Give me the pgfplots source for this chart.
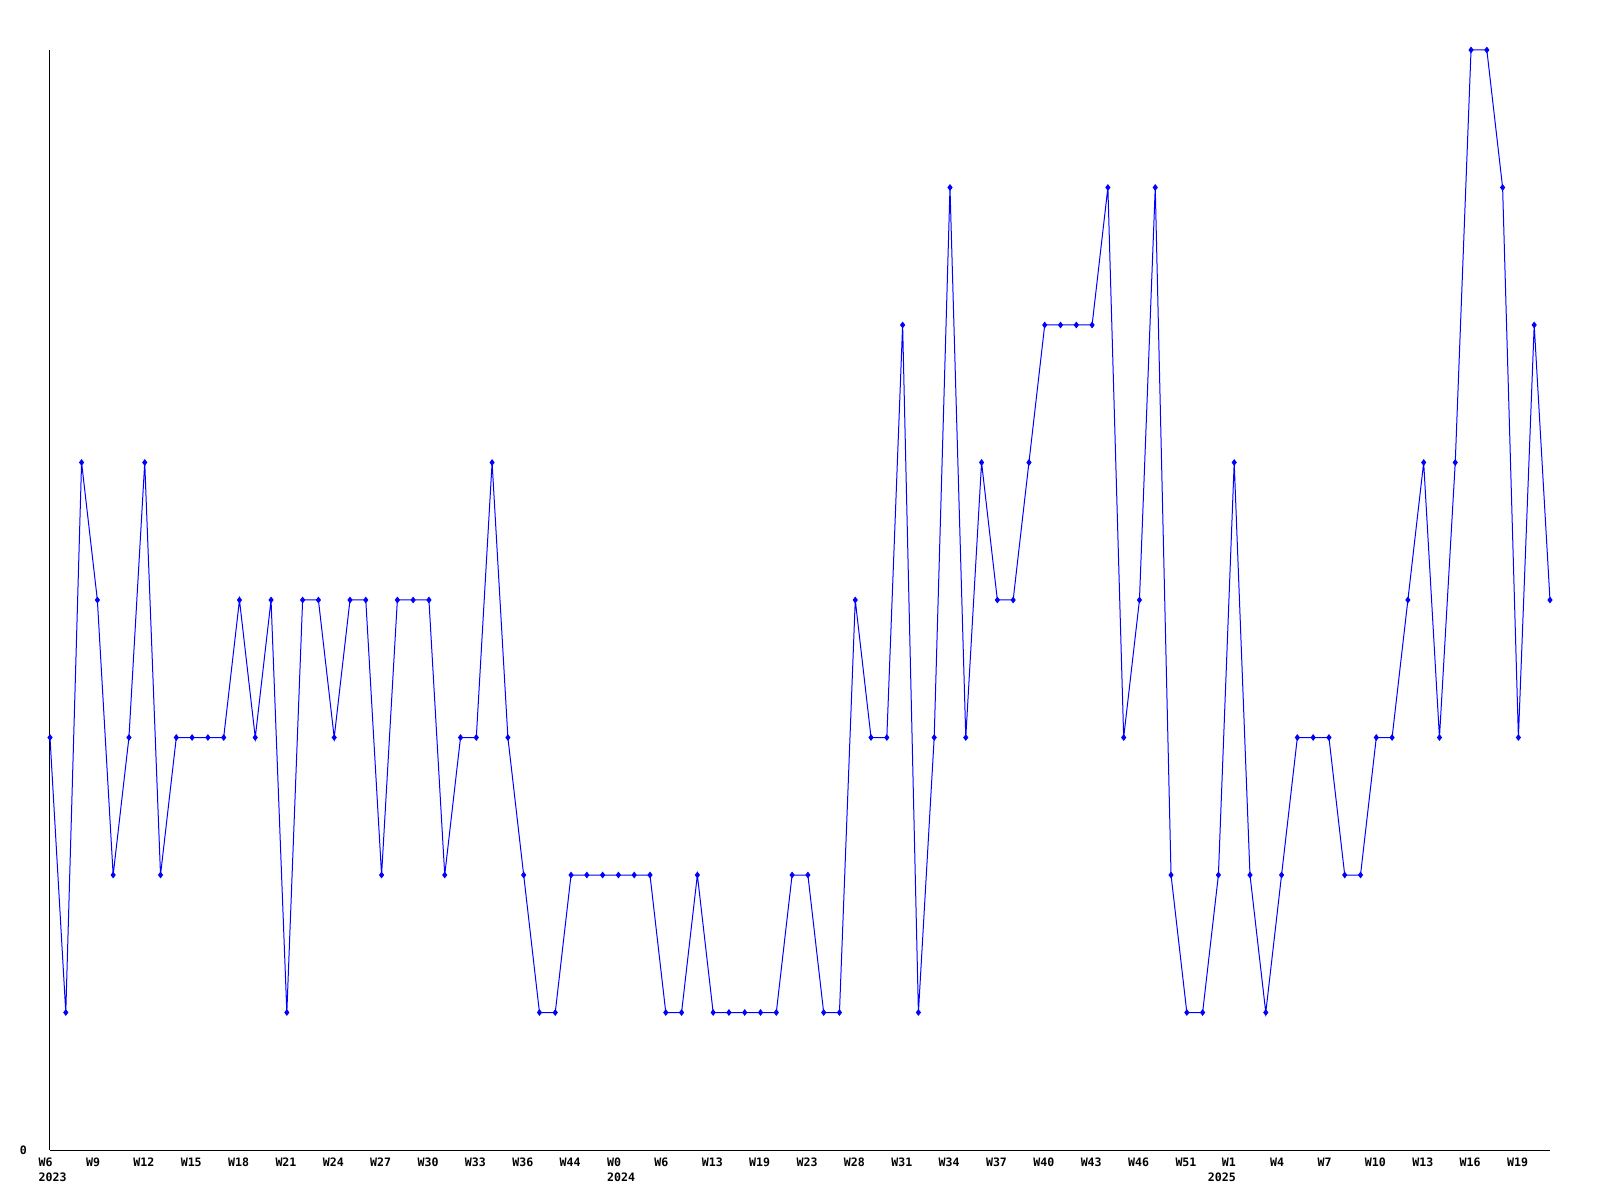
\documentclass[border=0pt]{standalone}
\usepackage{pgfplots}
\pgfplotsset{compat=1.18}
\usepackage{fontspec}
\setmonofont{DejaVu Sans Mono}
\begin{document}
\begin{tikzpicture}[x=1pt,y=1pt]
\path[use as bounding box] (0,0) rectangle (800,600);
\begin{axis}[
  at={(25pt,25pt)}, anchor=origin,
  scale only axis, width=750pt, height=550pt,
  xmin=0, xmax=95, ymin=0, ymax=8,
  axis lines*=left,
  axis line style={black, line width=0.5pt, -},
  tick style={draw=none},
  ytick={0}, yticklabels={0},
  yticklabel style={font=\ttfamily\bfseries\fontsize{5.8}{7}\selectfont, anchor=east, xshift=-8pt, yshift=-0pt},
  xtick={0,3,6,9,12,15,18,21,24,27,30,33,36,39,42,45,48,51,54,57,60,63,66,69,72,78,81,84,87,90,93},
  xticklabels={{W6\\2023},W9,W12,W15,W18,W21,W24,W27,W30,W33,W36,W44,{W0\\2024},W6,W13,W19,W23,W28,W31,W34,W37,W40,W43,W46,W51,W4,W7,W10,W13,W16,W19},
  xticklabel style={font=\ttfamily\bfseries\fontsize{5.8}{7.6}\selectfont, align=left, anchor=north west, xshift=-9.2pt, yshift=-0.5pt},
  extra x ticks={75},
  extra x tick labels={{W1\\2025}},
  extra x tick style={tick style={draw=none}, xticklabel style={align=right, xshift=-7.5pt}},
  clip=false,
]
\addplot[blue, line width=0.5pt, mark=diamond*, mark size=1.3pt, mark options={fill=blue, draw=blue}] coordinates {
(0,3)(1,1)(2,5)(3,4)(4,2)(5,3)(6,5)(7,2)(8,3)(9,3)
(10,3)(11,3)(12,4)(13,3)(14,4)(15,1)(16,4)(17,4)(18,3)(19,4)
(20,4)(21,2)(22,4)(23,4)(24,4)(25,2)(26,3)(27,3)(28,5)(29,3)
(30,2)(31,1)(32,1)(33,2)(34,2)(35,2)(36,2)(37,2)(38,2)(39,1)
(40,1)(41,2)(42,1)(43,1)(44,1)(45,1)(46,1)(47,2)(48,2)(49,1)
(50,1)(51,4)(52,3)(53,3)(54,6)(55,1)(56,3)(57,7)(58,3)(59,5)
(60,4)(61,4)(62,5)(63,6)(64,6)(65,6)(66,6)(67,7)(68,3)(69,4)
(70,7)(71,2)(72,1)(73,1)(74,2)(75,5)(76,2)(77,1)(78,2)(79,3)
(80,3)(81,3)(82,2)(83,2)(84,3)(85,3)(86,4)(87,5)(88,3)(89,5)
(90,8)(91,8)(92,7)(93,3)(94,6)(95,4)
};
\end{axis}
\end{tikzpicture}
\end{document}
